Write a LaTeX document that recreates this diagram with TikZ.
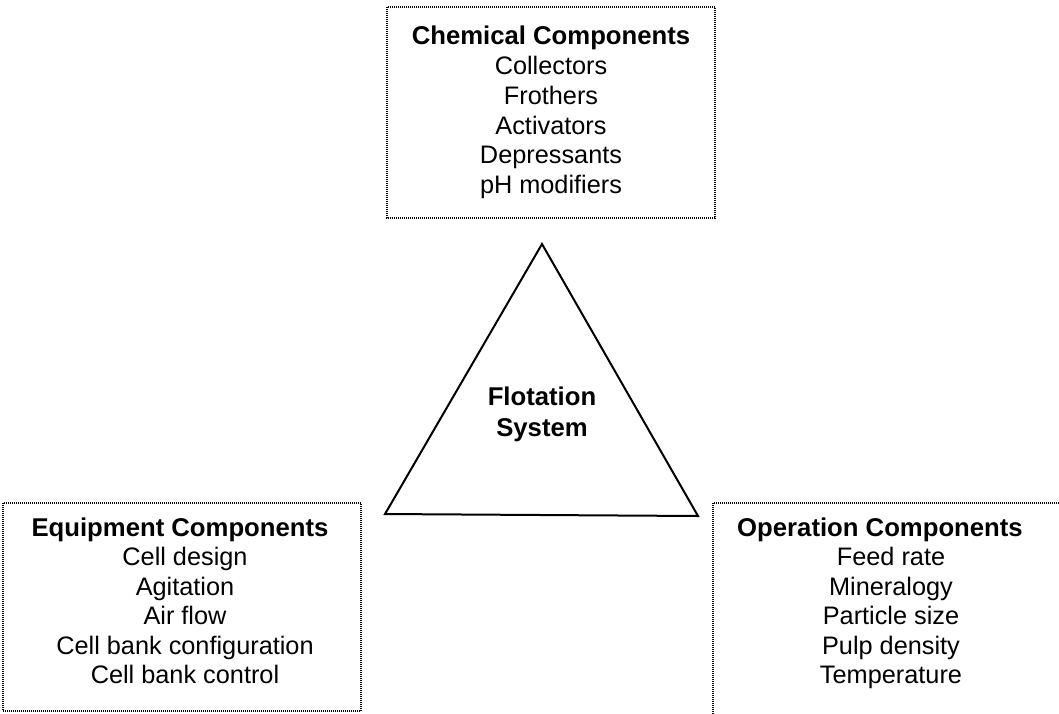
\documentclass[tikz,border=0pt]{standalone}
\usepackage{fontspec}
\setmainfont{Liberation Sans}
\begin{document}
\begin{tikzpicture}[x=1pt,y=-1pt,
  dotbox/.style={draw=black, line width=1.3pt, dash pattern=on 1pt off 1pt},
  txt/.style={anchor=base, inner sep=0pt, font=\fontsize{25.3}{29.5}\selectfont},
  ttl/.style={txt, font=\fontsize{25.7}{29.5}\selectfont\bfseries},
  tri/.style={draw=black, line width=2pt, line join=miter}]
\useasboundingbox (0,0) rectangle (1059,713);
\clip (0,0) rectangle (1059,713);
% boxes
\draw[dotbox] (387,7) rectangle (715,218);
\draw[dotbox] (3,503) rectangle (361,711);
\draw[dotbox] (713,503) rectangle (1075,730);
% top box text
\node[ttl] (chemT) at (551,44) {Chemical Components};
\node[txt] (chem1) at (551,74) {Collectors};
\node[txt] (chem2) at (551,104) {Frothers};
\node[txt] (chem3) at (551,134) {Activators};
\node[txt] (chem4) at (551,163.5) {Depressants};
\node[txt] (chem5) at (551,193) {pH modifiers};
% left box text
\node[ttl] (equT) at (180,536) {Equipment Components};
\node[txt] (equ1) at (185,565.5) {Cell design};
\node[txt] (equ2) at (185,595) {Agitation};
\node[txt] (equ3) at (185,624.5) {Air flow};
\node[txt] (equ4) at (185,654) {Cell bank configuration};
\node[txt] (equ5) at (185,683.5) {Cell bank control};
% right box text
\node[ttl] (opT) at (880,536) {Operation Components};
\node[txt] (op1) at (891,565.5) {Feed rate};
\node[txt] (op2) at (891,595) {Mineralogy};
\node[txt] (op3) at (891,624.5) {Particle size};
\node[txt] (op4) at (891,654) {Pulp density};
\node[txt] (op5) at (891,683.5) {Temperature};
% triangle
\coordinate (apex) at (542,244);
\coordinate (bl) at (385,514);
\coordinate (br) at (698,516);
\draw[tri] (apex) -- (bl) -- (br) -- cycle;
\node[ttl] (flot1) at (542,405) {Flotation};
\node[ttl] (flot2) at (542,436) {System};
\end{tikzpicture}
\end{document}
